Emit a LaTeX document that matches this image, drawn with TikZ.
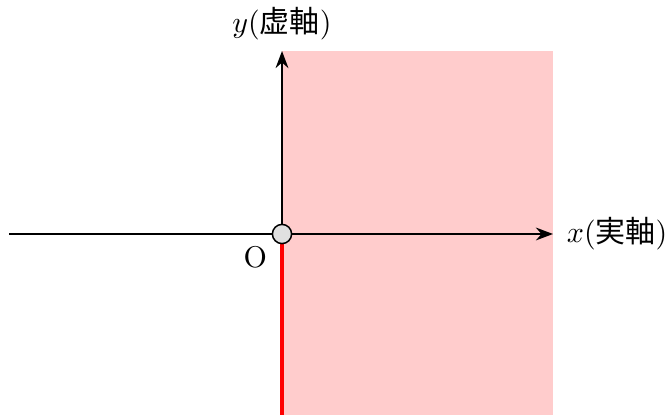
\documentclass[tikz,border=0pt]{standalone}
\usepackage{fontspec}
\usepackage{tikz}
\usetikzlibrary{arrows.meta,calc,positioning}
\newfontfamily\cjk{Noto Sans CJK JP}
\definecolor{regionpink}{RGB}{255,204,204}
\definecolor{origingray}{RGB}{224,224,224}

\begin{document}
\begin{tikzpicture}[x=0.3333pt,y=0.3333pt,>=Stealth]
  \useasboundingbox (0,0) rectangle (668,415);
  \coordinate (O) at (282,181);
  \coordinate (xs) at (9,181);
  \coordinate (xe) at (553,181);
  \coordinate (yb) at (282,0);
  \coordinate (ye) at (282,364);
  % shaded half plane
  \fill[regionpink] (yb) rectangle (553,364);
  \draw[->,line width=0.6pt] (xs)--(xe) node[right=1pt] (xlab) {$x$({\cjk 実軸})};
  \draw[->,line width=0.6pt] (yb)--(ye) node[above=0pt] (ylab) {$y$({\cjk 虚軸})};
  \draw[red,line width=1.4pt] (yb)--(O);
  \node[circle,draw,fill=origingray,inner sep=0pt,minimum size=6.4pt,line width=0.5pt] (o) at (O) {};
  \node[below left=-2pt and -1pt] (olab) at (o.south west) {O};
\end{tikzpicture}
\end{document}
